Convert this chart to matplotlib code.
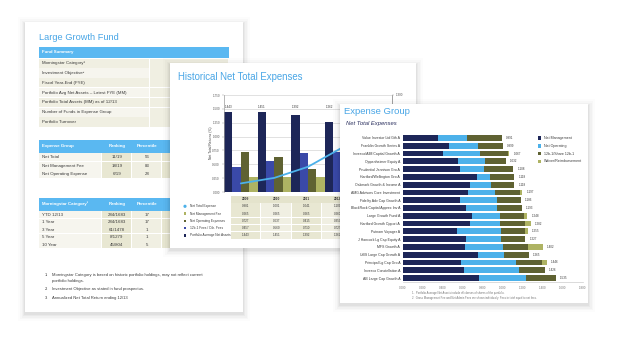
import matplotlib
matplotlib.use("Agg")
import matplotlib.pyplot as plt
from matplotlib.patches import Rectangle, Circle
import numpy as np

plt.rcParams['font.family'] = ['Liberation Sans Narrow', 'Liberation Sans', 'DejaVu Sans']

W, H = 619, 344

# ---- page 1 : fund summary tables ----
fund_rows = ["Morningstar Category\u00b9", "Investment Objective\u00b2", "Fiscal Year-End (FYE)",
             "Portfolio Avg Net Assets \u2013 Latest FYE (MM)", "Portfolio Total Assets (MM) as of 12/13",
             "Number of Funds in Expense Group", "Portfolio Turnover"]
exp_header = ["Expense Group", "Ranking", "Percentile", "Ranking", "Percentile"]
exp_rows = ["Net Total", "Net Management Fee", "Net Operating Expense"]
exp_rank = ["11/19", "18/19", "6/19"]
exp_pct = ["56", "83", "28"]
exp_rank2 = ["3/5", "4/5", "2/5"]
exp_pct2 = ["50", "75", "25"]
ms_header = ["Morningstar Category\u00b3", "Ranking", "Percentile", "Quartile", "Return"]
ms_rows = ["YTD 12/13", "1 Year", "3 Year", "5 Year", "10 Year"]
ms_rank = ["284/1683", "284/1683", "61/1478", "8/1279", "45/804"]
ms_pct = ["17", "17", "1", "1", "5"]
ms_quart = ["1", "1", "1", "1", "1"]
ms_ret = ["33.41", "33.41", "16.93", "21.12", "2.57"]
footnote_nums = ["1.", "2.", "3."]
footnote_texts = ["Morningstar Category is based on historic portfolio holdings, may not reflect current\nportfolio holdings.",
                  "Investment Objective as stated in fund prospectus.",
                  "Annualized Net Total Return ending 12/13"]

# ---- page 2 : historical net total expenses ----
years = ["2009", "2010", "2011", "2012", "2013"]
avg_net_assets = [1.443, 1.451, 1.392, 1.262, 1.300]
other_fees = [0.457, 0.560, 0.710, 0.727, 0.750]
net_operating = [0.727, 0.637, 0.415, 0.350, 0.330]
net_mgmt_fee = [0.265, 0.265, 0.265, 0.260, 0.260]
net_total_expense = [0.981, 1.001, 1.041, 1.109, 1.200]
hist_legend = ["Net Total Expense", "Net Management Fee", "Net Operating Expenses",
               "12b-1 Fees / Oth. Fees", "Portfolio Average Net Assets"]

# ---- page 3 : expense group ----
peer_names = ["Value Investor Ltd Gth A", "Franklin Growth Series A", "Invesco/AIM Capital Growth A",
              "Oppenheimer Equity A", "Prudential Jennison Gro A", "Hartford/Wellington Gro A",
              "Oakmark Growth & Income A", "AMG Advisors Core Investment", "Fidelity Adv Cap Growth A",
              "BlackRock Capital Apprec Inv A", "Large Growth Fund A", "Hartford Growth Opport A",
              "Putnam Voyager A", "J Hancock Lg Cap Equity A", "MFS Growth A",
              "UBS Large Cap Growth A", "Principal Lg Cap Gro A", "Invesco Constellation A",
              "AB Large Cap Growth A"]
net_management = [0.349, 0.462, 0.400, 0.547, 0.571, 0.742, 0.674, 0.650, 0.571, 0.632,
                  0.694, 0.667, 0.537, 0.632, 0.622, 0.749, 0.581, 0.615, 0.766]
net_operating_p = [0.297, 0.291, 0.376, 0.280, 0.246, 0.130, 0.205, 0.270, 0.369, 0.315,
                   0.277, 0.304, 0.444, 0.349, 0.376, 0.266, 0.554, 0.544, 0.472]
fees_12b1 = [0.345, 0.246, 0.274, 0.205, 0.291, 0.246, 0.239, 0.256, 0.246, 0.246,
             0.243, 0.256, 0.240, 0.246, 0.257, 0.250, 0.256, 0.260, 0.297]
waiver = [0.0, 0.0, 0.017, 0.0, 0.0, 0.0, 0.0, 0.021, 0.0, 0.0,
          0.034, 0.055, 0.034, 0.0, 0.147, 0.0, 0.055, 0.007, 0.0]
peer_series = ["Net Management", "Net Operating", "12b-1/Share 12b-1", "Waiver/Reimbursement"]
peer_ticks = [0.0, 0.2, 0.4, 0.6, 0.8, 1.0, 1.2, 1.4, 1.6, 1.8]

navy = '#1d2658'
mid_blue = '#3a49a8'
olive = '#5f6232'
light_olive = '#aeb363'
light_blue = '#4cb1ea'
title_blue = '#49a6e6'
header_blue = '#5ab8f1'
beige_dark = '#e8e7d2'
beige = '#f0efe2'
beige_light = '#f6f5ee'
txt = '#3a3a3a'

fig = plt.figure(figsize=(W / 100, H / 100), dpi=100)
fig.patch.set_facecolor('white')


def frac(x0, y0, x1, y1):
    return [x0 / W, 1 - y1 / H, (x1 - x0) / W, (y1 - y0) / H]


def layer(z):
    a = fig.add_axes([0, 0, 1, 1])
    a.set_xlim(0, W)
    a.set_ylim(H, 0)
    a.axis('off')
    a.set_zorder(z)
    return a


def page(a, x0, y0, x1, y1):
    for grow, al in [(7, 0.012), (5, 0.018), (3.5, 0.025), (2, 0.03), (1, 0.035)]:
        a.add_patch(Rectangle((x0 - grow, y0 - grow + 2), x1 - x0 + 2 * grow, y1 - y0 + 2 * grow,
                              facecolor='black', alpha=al, lw=0))
    a.add_patch(Rectangle((x0, y0), x1 - x0, y1 - y0, facecolor='white', lw=0))


def cell(a, x0, y0, x1, y1, color):
    a.add_patch(Rectangle((x0, y0 + 0.3), x1 - x0 - 0.6, y1 - y0 - 0.6, facecolor=color, lw=0))


# ================= page 1 =================
p1 = layer(1)
page(p1, 25, 22, 243, 312)
p1.text(39, 38, "Large Growth Fund", color=title_blue, fontsize=6.7, va='center')

p1.add_patch(Rectangle((39, 46.5), 190, 11.5, facecolor=header_blue, lw=0))
p1.text(42, 52.3, "Fund Summary", color='white', fontsize=3.2, fontweight='bold', va='center')
for i, lab in enumerate(fund_rows):
    y = 58.3 + i * 9.8
    cell(p1, 39, y, 150, y + 9.8, beige_light if i % 2 else beige)
    cell(p1, 150, y, 229, y + 9.8, beige)
    p1.text(41.5, y + 5, lab, color=txt, fontsize=3.2, va='center')

cols = [39, 102, 132, 162, 195, 229]
col_colors = [beige_light, beige_dark, beige, beige_dark, beige]


def table(a, ytop, hh, header, rows, rh, values):
    a.add_patch(Rectangle((cols[0], ytop), cols[-1] - cols[0], hh, facecolor=header_blue, lw=0))
    for j, h in enumerate(header):
        if j == 0:
            a.text(cols[0] + 3, ytop + hh / 2, h, color='white', fontsize=3.2, fontweight='bold', va='center')
        else:
            a.text((cols[j] + cols[j + 1]) / 2, ytop + hh / 2, h, color='white', fontsize=3.2,
                   fontweight='bold', va='center', ha='center')
    for i, lab in enumerate(rows):
        y = ytop + hh + 0.6 + i * rh
        for j in range(5):
            cell(a, cols[j], y, cols[j + 1], y + rh, col_colors[j])
        a.text(cols[0] + 2.5, y + rh / 2, lab, color=txt, fontsize=3.2, va='center')
        for j, vals in enumerate(values):
            a.text((cols[j + 1] + cols[j + 2]) / 2, y + rh / 2, vals[i], color=txt, fontsize=3.2,
                   va='center', ha='center')


table(p1, 140, 12.5, exp_header, exp_rows, 8.5, [exp_rank, exp_pct, exp_rank2, exp_pct2])
table(p1, 197.5, 13, ms_header, ms_rows, 7.5, [ms_rank, ms_pct, ms_quart, ms_ret])

for num, note, y in zip(footnote_nums, footnote_texts, [272.8, 286.6, 295.6]):
    p1.text(45, y, num, color=txt, fontsize=3.0, va='top')
    p1.text(52, y, note, color=txt, fontsize=3.0, va='top', linespacing=1.6)

# ================= page 2 =================
p2 = layer(2)
page(p2, 170, 63, 416, 248)
p2.text(178, 77, "Historical Net Total Expenses", color=title_blue, fontsize=6.9, va='center')
p2.text(211, 143, "Net Total Returns (%)", rotation=90, color=txt, fontsize=2.4, va='center', ha='center')

ax2 = fig.add_axes(frac(224, 95, 392, 192))
ax2.set_zorder(2.1)
ax2.patch.set_alpha(0)
x = np.arange(len(years))
bw = 0.245
for k, (vals, c) in enumerate([(avg_net_assets, navy), (other_fees, mid_blue),
                                (net_operating, olive), (net_mgmt_fee, light_olive)]):
    ax2.bar(x - 0.375 + k * 0.25, vals, width=bw, color=c, zorder=2)
for xi, v in zip(x, avg_net_assets):
    ax2.text(xi - 0.375, 1.5, f"{v:.3f}", fontsize=2.2, color=txt, ha='center', va='bottom')
ax2.set_xlim(-0.5, len(years) - 0.5)
ax2.set_ylim(0, 1.75)
ax2.set_yticks(np.arange(0, 1.76, 0.25))
ax2.set_yticklabels([f"{t:.3f}" for t in np.arange(0, 1.76, 0.25)])
ax2.set_xticks([])
ax2.yaxis.grid(True, color='#d4d4d4', lw=0.5)
ax2.set_axisbelow(True)
ax2.tick_params(axis='y', labelsize=2.2, labelcolor='#555555', length=1.5, width=0.3, pad=1.5, color='#999999')
for s in ['top', 'bottom']:
    ax2.spines[s].set_visible(False)
for s in ['left', 'right']:
    ax2.spines[s].set_color('#9a9a9a')
    ax2.spines[s].set_linewidth(0.5)

ax2r = ax2.twinx()
ax2r.set_zorder(2.2)
ax2r.plot(x, net_total_expense, color=light_blue, lw=1.3, solid_capstyle='round')
ax2r.set_ylim(0.95, 1.30)
ax2r.set_yticks(np.arange(0.95, 1.301, 0.05))
ax2r.set_yticklabels([f"{t:.3f}" for t in np.arange(0.95, 1.301, 0.05)])
ax2r.tick_params(axis='y', labelsize=2.2, labelcolor='#555555', length=1.5, width=0.3, pad=1.5, color='#999999')
for s in ['top', 'bottom', 'left']:
    ax2r.spines[s].set_visible(False)
ax2r.spines['right'].set_color('#9a9a9a')
ax2r.spines['right'].set_linewidth(0.5)

# data table under the chart
tx0, tcw = 230.5, 30.5
p2.add_patch(Rectangle((tx0, 195.5), tcw * len(years), 7, facecolor='#e4e3cc', lw=0))
for j, yr in enumerate(years):
    p2.text(tx0 + tcw * (j + 0.5), 199, yr, fontsize=2.3, color=txt, ha='center', va='center', fontweight='bold')
table_vals = [net_total_expense, net_mgmt_fee, net_operating, other_fees, avg_net_assets]
marker_cols = [light_blue, light_olive, olive, mid_blue, navy]
for i, (lab, vals, mc) in enumerate(zip(hist_legend, table_vals, marker_cols)):
    yc = 206.3 + i * 7.25
    if i == 0:
        p2.add_patch(Circle((185, yc), 1.6, facecolor=mc, lw=0))
    else:
        p2.add_patch(Rectangle((183.6, yc - 1.3), 2.8, 2.6, facecolor=mc, lw=0))
    p2.text(190, yc, lab, fontsize=2.3, color=txt, va='center')
    for j, v in enumerate(vals):
        cell(p2, tx0 + tcw * j, yc - 3.6, tx0 + tcw * (j + 1), yc + 3.6, beige if j % 2 else beige_dark)
        p2.text(tx0 + tcw * (j + 0.5), yc, f"{v:.3f}", fontsize=2.2, color=txt, ha='center', va='center')

# ================= page 3 =================
p3 = layer(3)
page(p3, 340, 104, 588, 303)
p3.text(344, 112, "Expense Group", color=title_blue, fontsize=6.8, va='center')
p3.text(346, 124, "Net Total Expenses", color='#2a2f5e', fontsize=4.2, style='italic', va='center')

ax3 = fig.add_axes(frac(403, 134.1, 582.5, 281.9))
ax3.set_zorder(3.1)
ax3.patch.set_alpha(0)
yy = np.arange(len(peer_names))
left = np.zeros(len(peer_names))
for vals, c in zip([net_management, net_operating_p, fees_12b1, waiver],
                   [navy, light_blue, olive, light_olive]):
    ax3.barh(yy, vals, left=left, height=0.74, color=c)
    left = left + np.array(vals)
for yi, tot in zip(yy, left):
    ax3.text(tot + 0.04, yi, f"{tot:.3f}", fontsize=2.2, color=txt, va='center')
ax3.set_xlim(0, 1.8)
ax3.set_ylim(len(peer_names) - 0.5, -0.5)
ax3.set_yticks(yy)
ax3.set_yticklabels(peer_names)
ax3.set_xticks(peer_ticks)
ax3.set_xticklabels([f"{t:.3f}" for t in peer_ticks])
ax3.tick_params(axis='y', labelsize=2.5, labelcolor=txt, length=0, pad=2)
ax3.tick_params(axis='x', labelsize=2.2, labelcolor='#777777', length=0, pad=3)
for s in ['top', 'right', 'left']:
    ax3.spines[s].set_visible(False)
ax3.spines['bottom'].set_color('#cccccc')
ax3.spines['bottom'].set_linewidth(0.5)

for i, (lab, c) in enumerate(zip(peer_series, [navy, light_blue, olive, light_olive])):
    yc = 138 + i * 7.8
    p3.add_patch(Rectangle((537.5, yc - 1.7), 3.4, 3.4, facecolor=c, lw=0))
    p3.text(544, yc, lab, fontsize=2.6, color=txt, va='center')

p3.text(412, 293, "1.  Portfolio Average Net Assets include all classes of shares of the portfolio.",
        fontsize=2.0, color='#777777', va='center')
p3.text(412, 297.5, "2.  Gross Management Fee and Net Admin Fees are shown individually. Fees in total equal to net fees.",
        fontsize=2.0, color='#777777', va='center')

fig.savefig("out.png", dpi=100)
